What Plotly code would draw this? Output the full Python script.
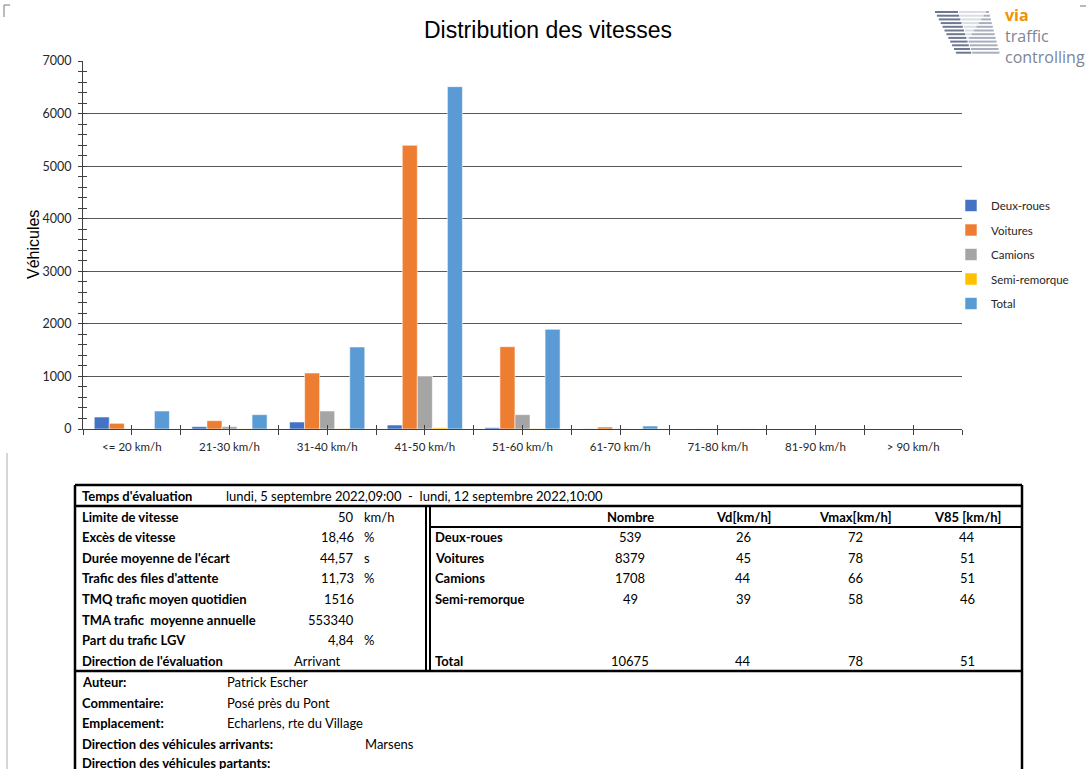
import plotly.graph_objects as go

# ---------------- data ----------------
categories = ["<= 20 km/h", "21-30 km/h", "31-40 km/h", "41-50 km/h", "51-60 km/h",
              "61-70 km/h", "71-80 km/h", "81-90 km/h", "> 90 km/h"]
deux_roues = [228, 45, 133, 76, 25, 3, 0, 0, 0]
voitures = [108, 158, 1065, 5397, 1566, 38, 2, 0, 0]
camions = [5, 45, 342, 1008, 273, 5, 0, 0, 0]
semi_remorque = [1, 5, 8, 25, 8, 1, 0, 0, 0]
total = [342, 273, 1560, 6512, 1896, 57, 2, 0, 0]

series_names = ["Deux-roues", "Voitures", "Camions", "Semi-remorque", "Total"]
series_colors = ["#4472C4", "#ED7D31", "#A5A5A5", "#FFC000", "#5B9BD5"]

period_label = "Temps d'évaluation"
period_text = "lundi, 5 septembre 2022,09:00  -  lundi, 12 septembre 2022,10:00"

info_labels = ["Limite de vitesse", "Excès de vitesse", "Durée moyenne de l'écart",
               "Trafic des files d'attente", "TMQ trafic moyen quotidien",
               "TMA trafic  moyenne annuelle", "Part du trafic LGV"]
info_values = ["50", "18,46", "44,57", "11,73", "1516", "553340", "4,84"]
info_units = ["km/h", "%", "s", "%", "", "", "%"]
direction_label = "Direction de l'évaluation"
direction_value = "Arrivant"

stat_headers = ["Nombre", "Vd[km/h]", "Vmax[km/h]", "V85 [km/h]"]
stat_rows = ["Deux-roues", "Voitures", "Camions", "Semi-remorque"]
stat_nombre = [539, 8379, 1708, 49]
stat_vd = [26, 45, 44, 39]
stat_vmax = [72, 78, 66, 58]
stat_v85 = [44, 51, 51, 46]
total_row = ["Total", 10675, 44, 78, 51]

meta_labels = ["Auteur:", "Commentaire:", "Emplacement:"]
meta_values = ["Patrick Escher", "Posé près du Pont", "Echarlens, rte du Village"]
dir_in_label = "Direction des véhicules arrivants:"
dir_in_value = "Marsens"
dir_out_label = "Direction des véhicules partants:"

# ---------------- geometry helpers (pixel -> paper) ----------------
W, H = 1086, 769
PLOT_L, PLOT_R, PLOT_T, PLOT_B = 83, 962, 61, 429
ML, MT = PLOT_L, PLOT_T
MR, MB = W - PLOT_R, H - PLOT_B
PW, PH = W - ML - MR, H - MT - MB


def fx(x):
    return (x - ML) / PW


def fy(y):
    return (H - MB - y) / PH


TFONT = "Lato"
fig = go.Figure()

all_series = [deux_roues, voitures, camions, semi_remorque, total]
for name, vals, col in zip(series_names, all_series, series_colors):
    fig.add_trace(go.Bar(
        x=categories, y=vals, name=name,
        marker=dict(color=col, line=dict(color="rgba(255,255,255,0.7)", width=0.8)),
        legendgroup=name,
    ))

axis_col = "#404040"
fig.update_layout(
    width=W, height=H, autosize=False,
    margin=dict(l=ML, r=MR, t=MT, b=MB, pad=0),
    paper_bgcolor="white", plot_bgcolor="white",
    barmode="group", bargap=0.23, bargroupgap=0,
    showlegend=True,
    legend=dict(x=fx(951), xanchor="left", y=fy(191), yanchor="top",
                font=dict(family=TFONT, size=11.5, color="#262626"),
                traceorder="grouped", tracegroupgap=5.5, itemwidth=30,
                borderwidth=0, bgcolor="rgba(0,0,0,0)"),
    xaxis=dict(type="category", showline=True, linecolor=axis_col, linewidth=1,
               ticks="", showgrid=False, ticklabelstandoff=7,
               tickfont=dict(family=TFONT, size=11.5, color="#262626")),
    xaxis2=dict(overlaying="x", anchor="y", range=[-0.5, len(categories) - 0.5],
                tickmode="linear", tick0=-0.5, dtick=0.5, ticks="outside", ticklen=5,
                tickcolor=axis_col, showticklabels=False, showgrid=False,
                showline=False, zeroline=False, side="bottom"),
    xaxis3=dict(overlaying="x", anchor="y", range=[-0.5, len(categories) - 0.5],
                tickmode="linear", tick0=-0.5, dtick=0.5, ticks="inside", ticklen=4,
                tickcolor=axis_col, showticklabels=False, showgrid=False,
                showline=False, zeroline=False, side="bottom"),
    yaxis=dict(range=[0, 7000], dtick=1000, showline=True, linecolor=axis_col,
               linewidth=1, ticks="outside", ticklen=4, tickcolor=axis_col,
               showgrid=True, gridcolor="#595959", gridwidth=1, zeroline=False,
               minor=dict(dtick=200, ticks="outside", ticklen=4, tickcolor=axis_col,
                          showgrid=False),
               tickfont=dict(family=TFONT, size=12.5, color="#262626"),
               ticklabelstandoff=4),
    yaxis2=dict(overlaying="y", anchor="x", range=[0, 7000], dtick=1000,
                ticks="inside", ticklen=4, tickcolor=axis_col, showticklabels=False,
                showgrid=False, showline=False, zeroline=False, side="left",
                minor=dict(dtick=200, ticks="inside", ticklen=4, tickcolor=axis_col,
                           showgrid=False)),
)

# invisible helper traces so the overlay tick axes render
fig.add_trace(go.Scatter(x=[0], y=[0], xaxis="x2", yaxis="y2", mode="markers",
                         marker=dict(opacity=0), showlegend=False, hoverinfo="skip"))
fig.add_trace(go.Scatter(x=[0], y=[0], xaxis="x3", yaxis="y2", mode="markers",
                         marker=dict(opacity=0), showlegend=False, hoverinfo="skip"))

ann = []
shapes = []


def text(x, y, s, size=13, anchor="left", bold=False, color="black", family=TFONT, **kw):
    t = f"<b>{s}</b>" if bold else s
    ann.append(dict(x=fx(x), y=fy(y), xref="paper", yref="paper", text=t,
                    showarrow=False, xanchor=anchor, yanchor="middle",
                    font=dict(family=family, size=size, color=color), **kw))


def line(x0, y0, x1, y1, width=2.5, color="black"):
    shapes.append(dict(type="line", xref="paper", yref="paper",
                       x0=fx(x0), y0=fy(y0), x1=fx(x1), y1=fy(y1),
                       line=dict(color=color, width=width)))


# Title and axis title
text(548, 30, "Distribution des vitesses", size=23, anchor="center",
     family="Liberation Sans", color="black")
ann.append(dict(x=fx(33), y=fy(245), xref="paper", yref="paper", text="Véhicules",
                showarrow=False, textangle=-90, xanchor="center", yanchor="middle",
                font=dict(family="Liberation Sans", size=16, color="black")))

# Logo (striped "VA" emblem + wordmark)
for i in range(12):
    yy = 12 + i * 3.7
    d0, d1 = 935 + i * 1.9, 958 + i * 1.2
    a0, a1 = 986 - i * 2.4, 989 + i * 0.95
    line(d0, yy, d1, yy, width=2.0, color="#6E7890")
    if a0 > d1 + 1:
        line(d1 + 1, yy, a0, yy, width=2.0, color="#DADDE3")
    line(max(a0, d1 + 1), yy, a1, yy, width=2.0, color="#A9AFBC")
ann.append(dict(x=fx(1003), y=fy(2), xref="paper", yref="paper",
                text="<b><span style='color:#F39200'>via</span></b><br>traffic<br>controlling",
                showarrow=False, xanchor="left", yanchor="top", align="left",
                font=dict(family="Open Sans", size=16, color="#7C8596")))

# page corner marks
line(4, 5, 4, 17, width=1, color="#777777")
line(4, 5, 10, 5, width=1, color="#777777")
line(1080, 6, 1086, 6, width=1, color="#777777")
line(7, 453, 7, 769, width=1.2, color="#BBBBBB")

# ---------------- table ----------------
L, R, MID1, MID2 = 75, 1022, 426, 430
TOP, ROW1, BOT1 = 485, 506, 671
line(L, TOP, R, TOP, width=2.5)
line(L, TOP, L, 775, width=2.5)
line(R, TOP, R, 775, width=2.5)
line(L, ROW1, R, ROW1, width=2.5)
line(MID1, ROW1, MID1, BOT1, width=2)
line(MID2, ROW1, MID2, BOT1, width=2)
line(MID2, 527, R, 527, width=2)
line(L, BOT1, R, BOT1, width=2.5)

text(80, 495.5, period_label, bold=True)
text(224, 495.5, period_text)

row_y = [516.5, 537, 557.5, 578, 598.5, 619.5, 640]
for yv, lab, val, unit in zip(row_y, info_labels, info_values, info_units):
    text(80, yv, lab, bold=True)
    text(356, yv, val, anchor="right")
    if unit:
        text(362, yv, unit)
text(80, 661, direction_label, bold=True)
text(317, 661, direction_value, anchor="center")

col_x = [630, 743, 855, 967]
for cx, h in zip(col_x, stat_headers):
    text(cx, 516.5, h, bold=True, anchor="center")
stat_cols = [stat_nombre, stat_vd, stat_vmax, stat_v85]
for r, (yv, lab) in enumerate(zip(row_y[1:5], stat_rows)):
    text(433, yv, lab, bold=True)
    for cx, col in zip(col_x, stat_cols):
        text(cx, yv, str(col[r]), anchor="center")
text(433, 661, total_row[0], bold=True)
for cx, v in zip(col_x, total_row[1:]):
    text(cx, 661, str(v), anchor="center")

meta_y = [682, 703, 723]
for yv, lab, val in zip(meta_y, meta_labels, meta_values):
    text(80, yv, lab, bold=True)
    text(225, yv, val)
text(80, 744, dir_in_label, bold=True)
text(363, 744, dir_in_value)
text(80, 763, dir_out_label, bold=True)

fig.update_layout(annotations=ann, shapes=shapes)
fig.write_html(
    "out.html",
    config={"responsive": False, "displayModeBar": False},
    post_script="document.body.style.margin='0';document.body.style.overflow='hidden';",
)
